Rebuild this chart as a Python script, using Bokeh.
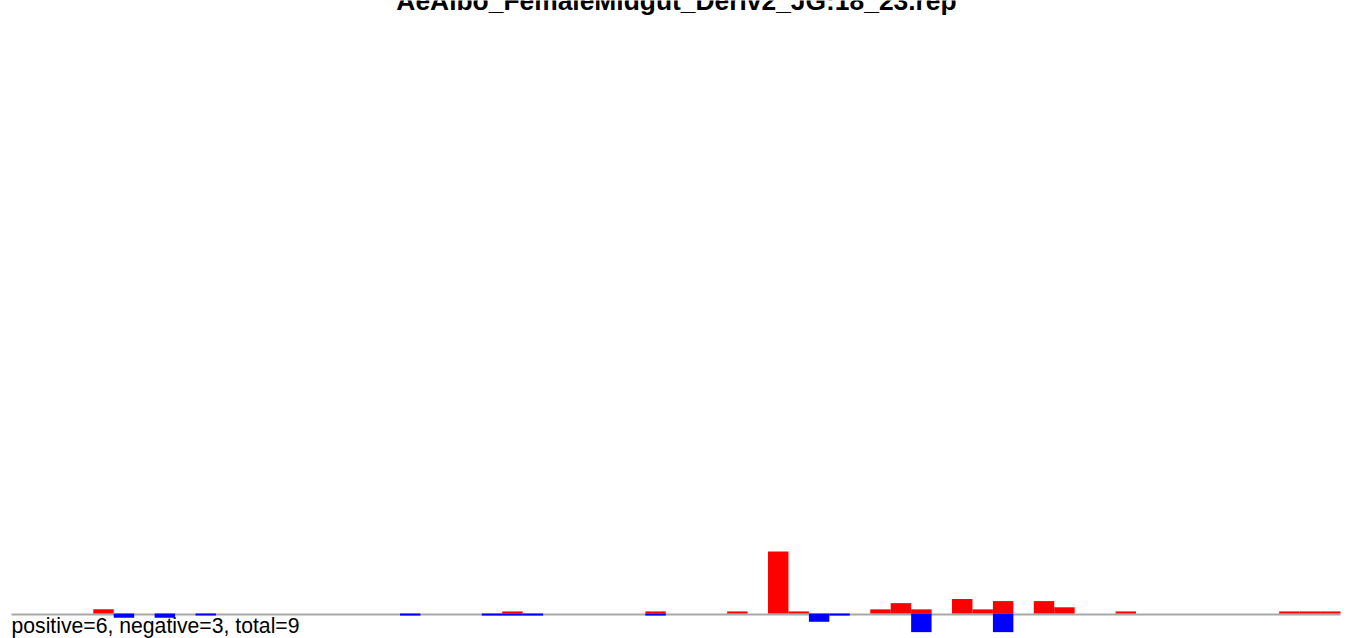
from bokeh.plotting import figure
from bokeh.models import Range1d, ColumnDataSource, Label
from bokeh.embed import file_html
from bokeh.resources import INLINE

# ---- data ----
title_text = "AeAlbo_FemaleMidgut_Deriv2_JG:18_23.rep"
summary_text = "positive=6, negative=3, total=9"
n_bins = 65
pos_bins = [4, 24, 31, 35, 37, 38, 42, 43, 44, 46, 47, 48, 50, 51, 54, 62, 63, 64]
pos_vals = [2, 1, 1, 1, 30, 1, 2, 5, 2, 7, 2, 6, 6, 3, 1, 1, 1, 1]
neg_bins = [5, 7, 9, 19, 23, 24, 25, 31, 39, 40, 44, 48]
neg_vals = [2, 2, 1, 1, 1, 1, 1, 1, 4, 1, 9, 9]

# ---- layout constants (pixels) ----
W, H = 1349, 638
left_px, right_px = 11.0, 1340.0
base_px = 613.0
px_per_unit = 2.07
bin_px = (right_px - left_px) / n_bins

x_start = -left_px / bin_px
x_end = x_start + W / bin_px
y_end = base_px / px_per_unit
y_start = -(H - base_px) / px_per_unit

p = figure(width=W, height=H, output_backend="svg", toolbar_location=None,
           x_range=Range1d(x_start, x_end), y_range=Range1d(y_start, y_end),
           x_axis_location=None, y_axis_location=None, min_border=0,
           outline_line_color=None, background_fill_color="white",
           border_fill_color="white")
p.grid.visible = False

# baseline
p.line(x=[0, n_bins], y=[-1.0 / px_per_unit, -1.0 / px_per_unit],
       line_color="#a8a8a8", line_width=2)

pos_src = ColumnDataSource(dict(x=[b + 0.5 for b in pos_bins], top=pos_vals))
neg_src = ColumnDataSource(dict(x=[b + 0.5 for b in neg_bins], top=[-v for v in neg_vals]))
p.vbar(x="x", top="top", bottom=0, width=1, source=pos_src,
       fill_color="#ff0000", line_color=None)
p.vbar(x="x", top="top", bottom=0, width=1, source=neg_src,
       fill_color="#0000ff", line_color=None)

p.add_layout(Label(x=(676 - left_px) / bin_px, y=(base_px - 0) / px_per_unit,
                   text=title_text, text_align="center", text_baseline="alphabetic",
                   text_font="Liberation Sans", text_font_style="bold",
                   text_font_size="26.4px", text_color="black"))
p.add_layout(Label(x=0, y=(base_px - 624.5) / px_per_unit,
                   text=summary_text, text_align="left", text_baseline="alphabetic",
                   text_font="Liberation Sans", text_font_style="normal",
                   text_font_size="21.2px", text_color="black"))

open("out.html", "w").write(file_html(p, INLINE))
